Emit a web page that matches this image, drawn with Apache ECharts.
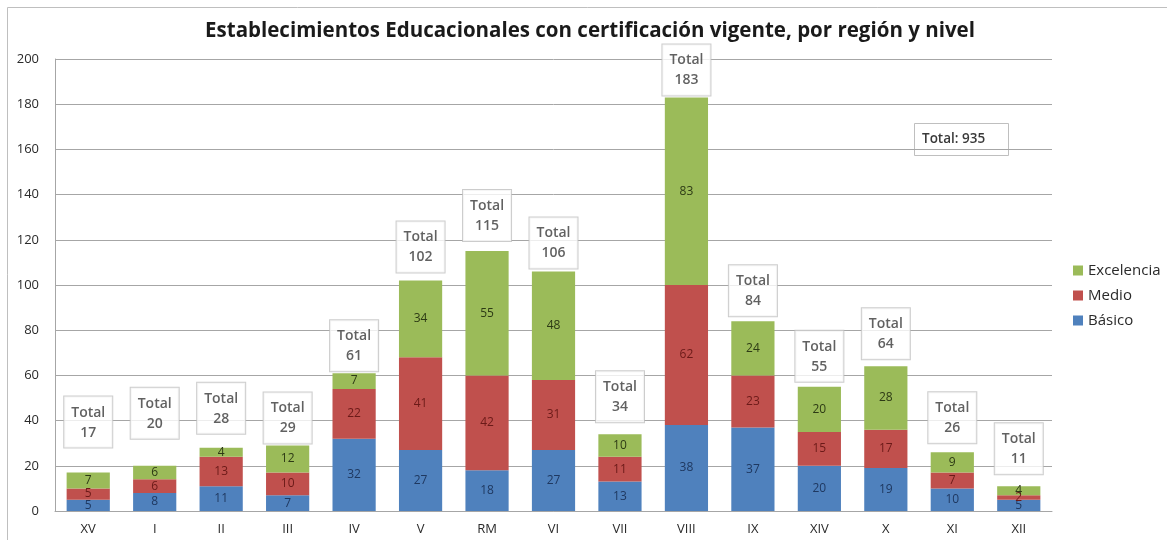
<!DOCTYPE html>
<html>
<head>
<meta charset="utf-8">
<script src="https://cdn.jsdelivr.net/npm/echarts@6/dist/echarts.min.js"></script>
<style>
html,body{margin:0;padding:0;background:#fff;}
#chart{width:1167px;height:540px;}
</style>
</head>
<body>
<div id="chart"></div>
<script>
const categories = ['XV','I','II','III','IV','V','RM','VI','VII','VIII','IX','XIV','X','XI','XII'];
const basico     = [5, 8, 11, 7, 32, 27, 18, 27, 13, 38, 37, 20, 19, 10, 5];
const medio      = [5, 6, 13, 10, 22, 41, 42, 31, 11, 62, 23, 15, 17, 7, 2];
const excelencia = [7, 6, 4, 12, 7, 34, 55, 48, 10, 83, 24, 20, 28, 9, 4];
const yTicks = [0, 200, 20];
const titleText = 'Establecimientos Educacionales con certificación vigente, por región y nivel';

const totals = categories.map((c, i) => basico[i] + medio[i] + excelencia[i]);
const grandTotal = totals.reduce((a, b) => a + b, 0);

// label gaps (px) between bar tops and the total boxes, as placed in the reference
const totalLabelGap = [25, 27, 14, 2, 2, 8, 10, 3, 12, 2, 5, 5, 7, 9, 12];

const FONT = '"Open Sans", Lato, sans-serif';
const chart = echarts.init(document.getElementById('chart'), null, {renderer: 'canvas'});

function barSeries(name, data, color, labelColor) {
  return {
    name: name,
    type: 'bar',
    stack: 'total',
    data: data,
    barCategoryGap: '35%',
    itemStyle: {color: color},
    label: {
      show: true,
      position: 'inside',
      fontFamily: FONT,
      fontSize: 12,
      color: labelColor
    },
    emphasis: {disabled: true}
  };
}

const option = {
  animation: false,
  textStyle: {fontFamily: FONT},
  graphic: [
    {type: 'rect', silent: true, z: -10, shape: {x: 7.5, y: 7.5, width: 1200, height: 600},
     style: {fill: 'none', stroke: '#bfbfbf', lineWidth: 1}},
    {type: 'text', x: 590, y: 31, silent: true,
     style: {text: titleText, font: 'bold 20.5px ' + FONT, fill: '#1a1a1a', textAlign: 'center', textVerticalAlign: 'middle'}},
    {type: 'group', x: 914, y: 123, silent: true, z: 50, children: [
      {type: 'rect', shape: {x: 0.5, y: 0.5, width: 94, height: 32},
       style: {fill: '#fff', stroke: '#bfbfbf', lineWidth: 1}},
      {type: 'text', x: 8, y: 16,
       style: {text: 'Total: ' + grandTotal, font: '600 13.5px ' + FONT, fill: '#3a3a3a', textAlign: 'left', textVerticalAlign: 'middle'}}
    ]}
  ],
  legend: {
    data: ['Excelencia', 'Medio', 'Básico'],
    orient: 'vertical',
    left: 1068,
    top: 258,
    itemWidth: 10,
    itemHeight: 10,
    itemGap: 10,
    icon: 'rect',
    textStyle: {fontFamily: FONT, fontSize: 15, color: '#2a2a2a'}
  },
  grid: {left: 55, right: 115, top: 59, bottom: 29},
  xAxis: {
    type: 'category',
    data: categories,
    axisLine: {lineStyle: {color: '#a6a6a6'}},
    axisTick: {show: false},
    axisLabel: {fontFamily: FONT, fontSize: 13, color: '#2a2a2a', margin: 12}
  },
  yAxis: {
    type: 'value',
    min: yTicks[0],
    max: yTicks[1],
    interval: yTicks[2],
    axisLine: {show: true, lineStyle: {color: '#a6a6a6'}},
    axisTick: {show: false},
    splitLine: {lineStyle: {color: '#a6a6a6'}},
    axisLabel: {fontFamily: FONT, fontSize: 13, color: '#2a2a2a', margin: 16}
  },
  series: [
    barSeries('Básico', basico, '#4f81bd', '#1f3860'),
    barSeries('Medio', medio, '#c0504d', '#6b1a18'),
    barSeries('Excelencia', excelencia, '#9bbb59', '#2d3a15'),
    {
      name: 'Total',
      type: 'scatter',
      symbolSize: 0,
      z: 20,
      data: totals.map((t, i) => ({
        value: t,
        label: {distance: totalLabelGap[i]}
      })),
      label: {
        show: true,
        position: 'top',
        formatter: p => 'Total\n' + p.value,
        fontFamily: FONT,
        fontSize: 14,
        fontWeight: 600,
        lineHeight: 20,
        color: '#3a3a3a',
        backgroundColor: '#fff',
        borderColor: '#bfbfbf',
        borderWidth: 1,
        padding: [6, 7, 5, 7],
        align: 'center'
      },
      emphasis: {disabled: true}
    }
  ]
};
chart.setOption(option);
</script>
</body>
</html>
